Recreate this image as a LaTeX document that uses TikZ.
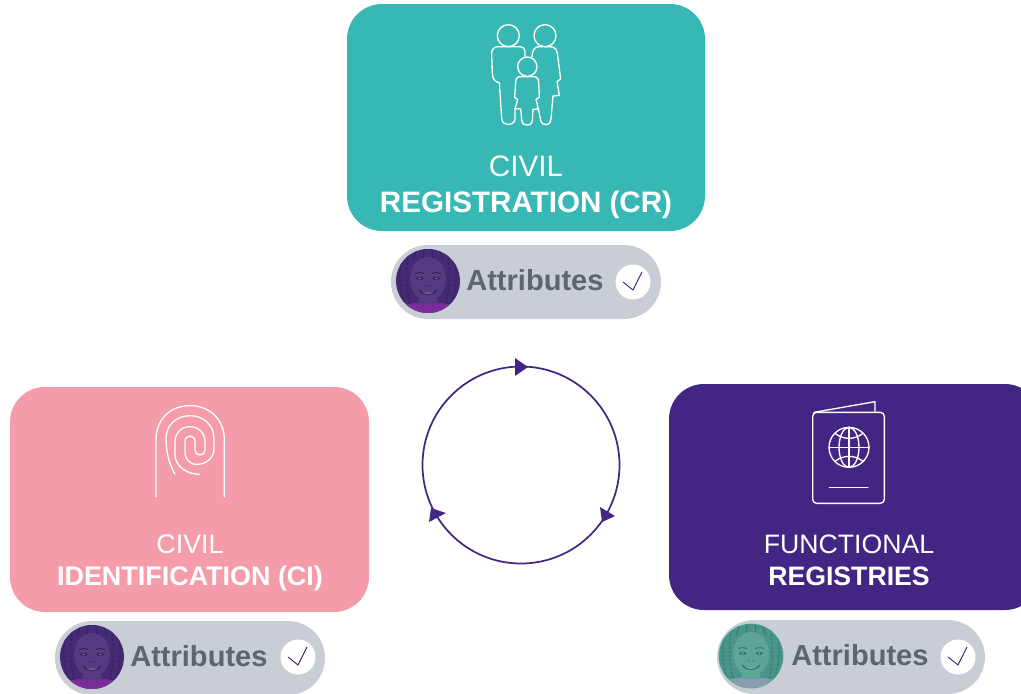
\documentclass[tikz,border=0pt]{standalone}
\usepackage{fontspec}
\setmainfont{Liberation Sans}
\definecolor{teal1}{HTML}{38B8B4}
\definecolor{pink1}{HTML}{F49CAA}
\definecolor{purple1}{HTML}{432683}
\definecolor{pillgrey}{HTML}{C9CED4}
\definecolor{txtgrey}{HTML}{5C6670}
\definecolor{pskin}{HTML}{553A82}
\definecolor{phair}{HTML}{452A74}
\definecolor{pdark}{HTML}{2F1C58}
\definecolor{pbot}{HTML}{7A2F98}
\definecolor{tskin}{HTML}{5FA596}
\definecolor{thair}{HTML}{4B9488}
\definecolor{tdark}{HTML}{2E6E68}
\definecolor{tbot}{HTML}{8A9DB0}
\definecolor{trim}{HTML}{5CC4A0}
\newcommand{\kidface}[7]{%
 % #1 x, #2 y, #3 neck, #4 skin, #5 hair, #6 bottom, #7 dark
 \begin{scope}[shift={(#1,#2)},x=0.25pt,y=-0.25pt]
  \begin{scope}
   \clip (0,0) circle (96*0.25pt);
   \fill[#5] (-100,-100) rectangle (100,100);
   \foreach \bx in {-76,-58,58,76}{\draw[#7,opacity=.55,line width=1.1pt,dash pattern=on 2pt off 1.2pt] (\bx,-80) .. controls (\bx*1.2,-20) and (\bx*1.1,30) .. (\bx*0.9,80);}
   \foreach \bx in {-34,-12,12,34}{\draw[#7,opacity=.6,line width=.8pt] (\bx,-95) -- (\bx*1.3,-62);}
   \fill[#6] (-70,72) .. controls (-30,62) and (30,62) .. (70,72) -- (70,100) -- (-70,100) -- cycle;
   \fill[#3] (-26,40) rectangle (26,70);
   \fill[#4] (0,-6) ellipse (54 and 66);
   \fill[#7,opacity=.85] (-25,-8) ellipse (11 and 5);
   \fill[#7,opacity=.85] (25,-8) ellipse (11 and 5);
   \fill[white,opacity=.45] (-25,-8) circle (3*0.25pt);
   \fill[white,opacity=.45] (25,-8) circle (3*0.25pt);
   \draw[#7,opacity=.7,line width=.8pt] (-38,-22) .. controls (-28,-28) and (-18,-26) .. (-12,-22);
   \draw[#7,opacity=.7,line width=.8pt] (38,-22) .. controls (28,-28) and (18,-26) .. (12,-22);
   \fill[#7,opacity=.7] (-7,14) circle (3*0.25pt); \fill[#7,opacity=.7] (7,14) circle (3*0.25pt);
   \draw[#7,line width=1pt] (-26,28) .. controls (-10,44) and (10,44) .. (26,28);
   \fill[white,opacity=.3] (-18,33) .. controls (-8,41) and (8,41) .. (18,33) .. controls (8,36) and (-8,36) .. (-18,33);
  \end{scope}
 \end{scope}}
\tikzset{
 card/.style={rounded corners=35*0.75pt},
 cardtext/.style={text=white,align=center,anchor=center},
 pill/.style={fill=pillgrey,rounded corners=37*0.75pt},
 attr/.style={text=txtgrey,font=\fontsize{21.8pt}{24pt}\selectfont\bfseries,inner sep=0pt},
 tick/.style={circle,fill=white,minimum size=35*0.75pt,inner sep=0pt},
 icon/.style={draw=white,line width=1pt,line join=round,line cap=round},
 cyc/.style={draw=purple1,line width=1.3pt},
 head/.style={fill=purple1},
}
\newcommand{\tickmark}[1]{\draw[purple1,line width=.7pt] ([shift={(-10,0)}]#1.center) -- ([shift={(0,8)}]#1.center) -- ([shift={(9,-10)}]#1.center);}
\begin{document}
\begin{tikzpicture}[x=0.75pt,y=-0.75pt]
\useasboundingbox (0,0) rectangle (1021,693);
% cards
\fill[teal1,card] (347,4) rectangle (705,231);
\fill[pink1,card] (10,387) rectangle (369,612);
\fill[purple1,card] (669,384) rectangle (1040,610);
% card texts
\node[cardtext,font=\fontsize{22.2pt}{27pt}\selectfont] (crtext) at (526,187) {CIVIL\\[0pt]\textbf{REGISTRATION (CR)}};
\node[cardtext,font=\fontsize{20.2pt}{24pt}\selectfont] (citext) at (190,563) {CIVIL\\[0pt]\textbf{IDENTIFICATION (CI)}};
\node[cardtext,font=\fontsize{20.0pt}{24pt}\selectfont] (frtext) at (849,560) {FUNCTIONAL\\[0pt]\textbf{REGISTRIES}};
% family icon
\begin{scope}[shift={(470,10)},x=0.25pt,y=-0.25pt]
 \draw[icon] (115,77) circle (33*0.25pt);
 \draw[icon] (225,77) circle (33*0.25pt);
 \draw[icon] (172,170) circle (29*0.25pt);
 \draw[icon] (165,140) -- (165,125) .. controls (165,115) and (158,110) .. (150,110) -- (85,110)
  .. controls (72,110) and (65,118) .. (65,130) -- (67,190) .. controls (68,208) and (76,216) .. (88,218)
  -- (95,325) .. controls (96,338) and (104,343) .. (115,343) .. controls (128,343) and (135,336) .. (135,325) -- (135,296) -- (152,297)
  -- (155,330) .. controls (157,342) and (163,345) .. (172,345) .. controls (182,345) and (186,340) .. (187,330) -- (189,298) -- (205,297)
  -- (212,330) .. controls (214,340) and (220,345) .. (228,344) .. controls (238,343) and (242,336) .. (243,325)
  -- (249,258) -- (268,256) -- (261,215) -- (272,207) -- (262,130) .. controls (260,116) and (252,110) .. (240,110)
  -- (205,110) .. controls (192,112) and (187,122) .. (186,140);
 \draw[icon] (146,200) -- (196,200) .. controls (203,202) and (206,208) .. (206,216) -- (208,262) -- (198,268) -- (205,297);
 \draw[icon] (146,200) .. controls (140,202) and (137,208) .. (137,216) -- (134,262) -- (143,268) -- (135,296);
\end{scope}
% fingerprint icon
\begin{scope}[shift={(140,395)},x=0.25pt,y=-0.25pt]
 \draw[icon] (48,305) -- (48,135) .. controls (48,72) and (92,32) .. (150,32) .. controls (208,32) and (253,72) .. (253,135) -- (253,305);
 \draw[icon] (105,237) .. controls (88,210) and (78,170) .. (78,130) .. controls (78,90) and (110,62) .. (150,62)
  .. controls (190,62) and (222,90) .. (222,130) -- (222,160) .. controls (222,190) and (198,208) .. (170,208)
  .. controls (148,208) and (135,192) .. (135,170) -- (135,140) .. controls (135,130) and (141,123) .. (150,123)
  .. controls (159,123) and (165,130) .. (165,140) -- (165,163) .. controls (165,174) and (172,180) .. (180,180)
  .. controls (188,180) and (195,174) .. (195,163) -- (195,140) .. controls (195,113) and (175,95) .. (150,95)
  .. controls (125,95) and (105,113) .. (105,140) -- (105,180) .. controls (105,212) and (140,238) .. (178,238);
\end{scope}
% passport icon
\begin{scope}[shift={(800,395)},x=0.25pt,y=-0.25pt]
 \draw[icon,rounded corners=3pt] (38,52) rectangle (253,325);
 \draw[icon] (42,52) -- (225,20) -- (225,52);
 \draw[icon] (147,157) circle (60*0.25pt);
 \draw[icon] (147,157) ellipse (30*0.25pt and 60*0.25pt);
 \draw[icon] (147,97) -- (147,217);
 \draw[icon] (87,157) -- (207,157);
 \draw[icon] (105,115) .. controls (130,135) and (164,135) .. (189,115);
 \draw[icon] (105,199) .. controls (130,179) and (164,179) .. (189,199);
 \draw[icon] (88,277) -- (204,277);
\end{scope}
% cycle
\node[circle,cyc,minimum size=197*0.75pt,inner sep=0pt] (cycle) at (521,465) {};
\fill[head] (515,358) -- (528,367) -- (515,376) -- cycle;
\fill[head] (600,507) -- (615,516) -- (602,522) -- cycle;
\fill[head] (431,508) -- (446,513) -- (429,522) -- cycle;
% pills
\fill[pill] (391,245) rectangle (661,319);
\fill[pill] (55,621) rectangle (325,695);
\fill[pill] (717,620) rectangle (985,694);
\kidface{428}{281}{pskin}{pskin}{phair}{pbot}{pdark}
\kidface{92}{657}{pskin}{pskin}{phair}{pbot}{pdark}
\fill[trim] (751,656) circle (32.5*0.75pt);
\kidface{751}{656}{tskin}{tskin}{thair}{tbot}{tdark}
\node[attr,anchor=west] (a1) at (466,280) {Attributes};
\node[attr,anchor=west] (a2) at (130,656) {Attributes};
\node[attr,anchor=west] (a3) at (791,655) {Attributes};
\node[tick] (t1) at (633,282) {};
\node[tick] (t2) at (298,657) {};
\node[tick] (t3) at (958,657) {};
\tickmark{t1}\tickmark{t2}\tickmark{t3}
\end{tikzpicture}
\end{document}
